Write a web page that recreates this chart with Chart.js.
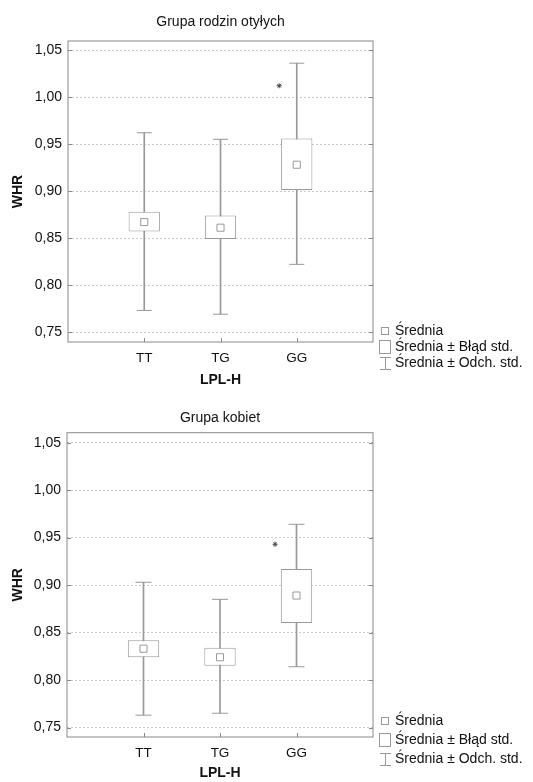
<!DOCTYPE html>
<html>
<head>
<meta charset="utf-8">
<title>WHR - LPL-H</title>
<script src="https://cdn.jsdelivr.net/npm/chart.js@4.4.1/dist/chart.umd.min.js"></script>
<style>
	body { margin: 0; background: #fff; }
	canvas { display: block; }
</style>
</head>
<body>
<canvas id="obeseChart" width="533" height="390"></canvas>
<canvas id="womenChart" width="533" height="392"></canvas>
<script>
// categories / ticks
const genotypes = ['TT', 'TG', 'GG'];
const yTicks = [0.75, 0.80, 0.85, 0.90, 0.95, 1.00, 1.05];
const legendLabels = ['Średnia', 'Średnia ± Błąd std.', 'Średnia ± Odch. std.'];

// Grupa rodzin otyłych
const obeseMean = [0.867, 0.861, 0.928];
const obeseSeLow = [0.857, 0.849, 0.901];
const obeseSeHigh = [0.878, 0.874, 0.956];
const obeseSdLow = [0.773, 0.769, 0.822];
const obeseSdHigh = [0.962, 0.955, 1.036];
const obeseStar = [{x: 2.77, y: 1.012}];

// Grupa kobiet
const womenMean = [0.833, 0.824, 0.889];
const womenSeLow = [0.824, 0.815, 0.860];
const womenSeHigh = [0.842, 0.834, 0.917];
const womenSdLow = [0.763, 0.765, 0.814];
const womenSdHigh = [0.903, 0.885, 0.964];
const womenStar = [{x: 2.72, y: 0.943}];

const lineColor = '#999';
const textColor = '#111';

Chart.defaults.font.family = '"Liberation Sans", Arial, sans-serif';
Chart.defaults.font.size = 14;
Chart.defaults.color = textColor;

// frame, inner tick marks and the legend on the right
const framePlugin = {
	id: 'frame',
	afterDatasetsDraw(chart, args, opts) {
		const {ctx, chartArea: a, scales} = chart;
		ctx.save();
		ctx.strokeStyle = '#888';
		ctx.lineWidth = 1;
		ctx.strokeRect(a.left, a.top, a.right - a.left, a.bottom - a.top);

		ctx.beginPath();
		scales.y.ticks.forEach(t => {
			const y = Math.round(scales.y.getPixelForValue(t.value)) + 0.5;
			ctx.moveTo(a.left, y); ctx.lineTo(a.left + 4, y);
			ctx.moveTo(a.right - 4, y); ctx.lineTo(a.right, y);
		});
		genotypes.forEach((g, i) => {
			const x = Math.round(scales.x.getPixelForValue(i + 1)) + 0.5;
			ctx.moveTo(x, a.bottom); ctx.lineTo(x, a.bottom - 4);
		});
		ctx.stroke();

		// legend
		const sx = a.right + 12;
		const tx = a.right + 22;
		ctx.font = '14px "Liberation Sans", Arial, sans-serif';
		ctx.textBaseline = 'middle';
		legendLabels.forEach((label, i) => {
			const y = Math.round(a.bottom + opts.mid + (i - 1) * opts.gap);
			ctx.strokeStyle = lineColor;
			ctx.fillStyle = '#fff';
			if (i === 0) {
				ctx.strokeRect(sx - 3.5, y - 3.5, 7, 7);
			} else if (i === 1) {
				ctx.strokeRect(sx - 5.5, y - 6.5, 11, 13);
			} else {
				ctx.beginPath();
				ctx.moveTo(sx + 0.5, y - 6); ctx.lineTo(sx + 0.5, y + 6);
				ctx.moveTo(sx - 5, y - 5.5); ctx.lineTo(sx + 6, y - 5.5);
				ctx.moveTo(sx - 5, y + 6.5); ctx.lineTo(sx + 6, y + 6.5);
				ctx.stroke();
			}
			ctx.fillStyle = textColor;
			ctx.fillText(label, tx, y);
		});
		ctx.restore();
	}
};

function makeChart(id, title, d, o) {
	const toBars = (lo, hi) => genotypes.map((g, i) => ({x: i + 1, y: [lo[i], hi[i]]}));
	const toPts = vals => genotypes.map((g, i) => ({x: i + 1, y: vals[i]}));

	return new Chart(document.getElementById(id), {
		type: 'bar',
		data: {
			datasets: [{
				type: 'scatter',
				data: toPts(d.mean),
				pointStyle: 'rect',
				radius: 5,
				backgroundColor: '#fff',
				borderColor: lineColor,
				borderWidth: 1,
				order: 0
			}, {
				type: 'bar',
				data: toBars(d.seLow, d.seHigh),
				backgroundColor: '#fff',
				borderColor: lineColor,
				borderWidth: 1,
				borderSkipped: false,
				grouped: false,
				barPercentage: 0.41,
				categoryPercentage: 1,
				order: 1
			}, {
				type: 'scatter',
				data: toPts(d.sdLow).concat(toPts(d.sdHigh)),
				pointStyle: 'line',
				radius: o.cap,
				borderColor: lineColor,
				borderWidth: 1,
				order: 2
			}, {
				type: 'bar',
				data: toBars(d.sdLow, d.sdHigh),
				backgroundColor: lineColor,
				barThickness: 1,
				grouped: false,
				order: 3
			}, {
				type: 'scatter',
				data: d.star,
				pointStyle: 'star',
				radius: 2.5,
				borderColor: '#444',
				borderWidth: 1,
				order: 0
			}]
		},
		options: {
			responsive: false,
			animation: false,
			events: [],
			layout: { padding: { left: 0, right: 160, top: 0, bottom: 0 } },
			scales: {
				x: {
					type: 'linear',
					min: 0,
					max: 4,
					offset: false,
					grid: { display: false, drawTicks: false, offset: false },
					border: { display: false },
					afterFit: s => { s.height = o.xh; },
					ticks: {
						stepSize: 1,
						autoSkip: false,
						maxRotation: 0,
						padding: 8,
						color: textColor,
						font: { size: 13.5 },
						callback: v => genotypes[v - 1] || ''
					},
					title: {
						display: true,
						text: 'LPL-H',
						font: { weight: 'bold', size: 14 },
						padding: { top: 0, bottom: o.xtb }
					}
				},
				y: {
					min: o.yMin,
					max: o.yMax,
					afterBuildTicks: s => { s.ticks = yTicks.map(v => ({value: v})); },
					afterFit: s => { s.width = o.yw; },
					grid: { color: '#c8c8c8', drawTicks: false },
					border: { display: false, dash: [2, 2] },
					ticks: {
						padding: 6,
						color: textColor,
						callback: v => v.toFixed(2).replace('.', ',')
					},
					title: {
						display: true,
						text: 'WHR',
						font: { weight: 'bold', size: 14 },
						padding: { top: 10, bottom: 0 }
					}
				}
			},
			plugins: {
				legend: { display: false },
				tooltip: { enabled: false },
				title: {
					display: true,
					text: title,
					fullSize: false,
					color: textColor,
					font: { size: 14, weight: 'normal' },
					padding: { top: o.tt, bottom: o.tb }
				},
				frame: { mid: o.legMid, gap: o.legGap }
			}
		},
		plugins: [framePlugin]
	});
}

makeChart('obeseChart', 'Grupa rodzin otyłych', {
	mean: obeseMean, seLow: obeseSeLow, seHigh: obeseSeHigh,
	sdLow: obeseSdLow, sdHigh: obeseSdHigh, star: obeseStar
}, { yMin: 0.7394, yMax: 1.0596, yw: 68, xh: 48, xtb: 1.5, tt: 13.5, tb: 10.7, cap: 7.5, legMid: 5, legGap: 16 });

makeChart('womenChart', 'Grupa kobiet', {
	mean: womenMean, seLow: womenSeLow, seHigh: womenSeHigh,
	sdLow: womenSdLow, sdHigh: womenSdHigh, star: womenStar
}, { yMin: 0.740, yMax: 1.0605, yw: 67, xh: 45, xtb: 0, tt: 19.5, tb: 6.4, cap: 8, legMid: 3, legGap: 19 });
</script>
</body>
</html>
